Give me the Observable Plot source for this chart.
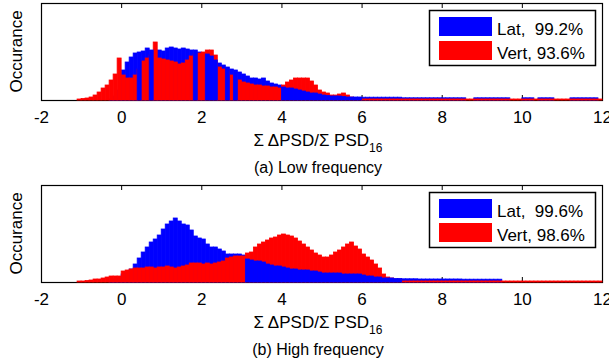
<!DOCTYPE html>
<html><head><meta charset="utf-8">
<script src="https://cdn.jsdelivr.net/npm/d3@7"></script>
<script src="https://cdn.jsdelivr.net/npm/@observablehq/plot@0.6"></script>
<style>
body{margin:0;background:#fff}
#fig{width:609px;height:364px;font-family:"Liberation Sans",Arial,sans-serif}
#fig svg{display:block;overflow:visible}
</style>
</head><body><div id="fig"></div>
<script>
// x ticks and bins (bin starts at -1.1, width 0.1)
const xTicks = [-2, 0, 2, 4, 6, 8, 10, 12];
const binStart = -1.1, binWidth = 0.1;
const yLabel = "Occurance";
const xLabelMain = "\u03A3 \u0394PSD/\u03A3 PSD";
const xLabelSub = "16";
const seriesNames = ["Lat", "Vert"];

// (a) Low frequency
const lowLat = [
  0,0,0,0,0,0,0,0,1,4,
  10,30,38,43,47,48,49,52,50,49,
  50,49,52,53,52,51,52,51,50,50,
  48,47,46,44,40,37,35,33,31,30,
  28,26,24,22,22,21,22,19,17,16,
  15,13,12,12,11,10,9,8,7,7,
  6,5,4.5,4,4,4,3.5,3,3,3,
  3,2.8,2.8,2.8,2.8,2.8,2.8,2.8,2.8,2.8,
  2.8,2.2,2.2,2.2,2.2,2.2,2.2,2.2,2.2,2.2,
  2.2,2.2,2.2,2.2,2.2,2.2,2.2,0,0,2.2,
  2.2,2.2,2.2,2.2,2.2,2.2,2.2,2.2,0,0,
  0,2.2,2.2,2.2,0,2.2,2.2,2.2,2.2,0,
  0,0,0,2.2,2.2,2.2,2.2,2.2,2.2,2.2,0
];
const lowVert = [
  1,1.5,2,3,5,8,12,15,20,26,
  42,25,22,22,25,31,39,42,45,58,
  42,41,40,39,38,36,37,40,44,46,
  47,48,50,50,45,33,31,29,25,22,
  20,18,17,16,15,15,14,14,13,13,
  12,15,18,20,22,22,22,22,19,15,
  10,8,7,5,5,6,7,5,3,2,
  1.5,1,1,1,1,1,1,1,1,1,
  1,1,1,1,1,1,1,1,1,1,
  1,1,1,1,1,1,1,1,1,1,
  1,1,1,1,1,1,1,1,1,1,
  1,1,1,1,1,1,1,1,1,1,
  1,1,1,1,1,1,1,1,1,1,1
];
// bins where the Lat bars lie in front of the Vert bars
const lowBlueFront = [[0.4,0.5],[0.7,0.8],[1.8,1.9],[2.1,2.4],[2.6,2.7],[2.8,2.9],[4.0,6.0]];
const lowPct = ["99.2%", "93.6%"];

// (b) High frequency
const highLat = [
  0,0,0,0,0,0,0,0,1,3,
  4,8,10,13,18,24,30,35,40,43,
  47,53,58,61,64,61,58,57,52,46,
  44,43,38,35,35,33,31,28,28,28,
  28,27,23,22,21,21,20,18,17,16,
  16,15,14,13,13,12,12,12,11,11,
  10,9,9,9,9,9,8,8,8,8,
  8,7,6,6,5,5,4,4,4,3.5,
  3.5,3.2,3.2,3.2,3.2,3,3,3,3,3,
  3,3,3,3,3,3,2.8,2.8,2.8,2.8,
  2.8,2.8,2.8,2.8,2.8,2.8,0,0,0,0,
  0,0,0,0,0,0,0,0,0,0,
  0,0,0,0,0,0,0,0,0,0,0
];
const highVert = [
  1,1,1.5,2,3,3,4,5,6,6,
  6,11,12,13,14,14,14,15,15,14,
  15,15,16,15,14,15,16,17,19,19,
  19,18,19,18,19,20,21,24,25,26,
  26,26,29,30,35,38,40,42,44,45,
  47,48,47,46,44,41,38,35,32,29,
  27,25,25,27,30,32,35,38,40,36,
  33,28,25,22,18,14,8,5,4,3,
  3,1,1,1,1,1,1,1,1,1,
  1,1,1,1,1,1,1,1,1,1,
  1,1,1,1,1,1,1,1,1,1,
  1,1,1,1,1,1,1,1,1,1,
  1,1,1,1,1,1,1,1,1,1,1
];
const highBlueFront = [[3.1,7.0]];
const highPct = ["99.6%", "98.6%"];

const BLUE = "#0000ff", RED = "#ff0000";
const FONT = '"Liberation Sans", Arial, sans-serif';

const panels = [
  {lat: lowLat, vert: lowVert, front: lowBlueFront, pct: lowPct, caption: "(a) Low frequency"},
  {lat: highLat, vert: highVert, front: highBlueFront, pct: highPct, caption: "(b) High frequency"}
];

const W = 609, H = 182, mT = 3, mB = 82, mL = 41, mR = 7;

for (const p of panels) {
  const data = p.lat.map((lat, i) => {
    const x1 = Math.round((binStart + i * binWidth) * 10) / 10;
    const x2 = Math.round((x1 + binWidth) * 10) / 10;
    const blueFront = p.front.some(([a, b]) => x1 >= a - 1e-6 && x1 < b - 1e-6);
    return {x1, x2, lat, vert: p.vert[i], blueFront};
  });
  const bar = (front, key, color) => Plot.rect(data, {
    filter: d => d.blueFront === front && d[key] > 0,
    x1: "x1", x2: "x2", y1: 0, y2: key,
    fill: color, stroke: color, strokeWidth: 0.8
  });
  const chart = Plot.plot({
    width: W, height: H, marginTop: mT, marginBottom: mB, marginLeft: mL, marginRight: mR,
    x: {domain: [-2, 12], axis: null},
    y: {domain: [0, 97], axis: null},
    style: {background: "transparent", fontFamily: FONT, color: "black", overflow: "visible"},
    marks: [
      Plot.frame({stroke: "black", strokeWidth: 1.2}),
      Plot.ruleX(xTicks, {x: d => d, insetTop: 92, stroke: "black"}),
      Plot.ruleX(xTicks, {x: d => d, insetBottom: 92, stroke: "black"}),
      bar(false, "lat", BLUE),
      bar(true, "vert", RED),
      bar(false, "vert", RED),
      bar(true, "lat", BLUE),
      Plot.text(xTicks, {x: d => d, frameAnchor: "bottom", text: d => String(d), dy: 17, lineAnchor: "middle", fontSize: 17, fill: "black"})
    ]
  });
  document.getElementById("fig").appendChild(chart);
  const svg = d3.select(chart);
  const cx = 318;
  // y label (rotated)
  svg.append("text").attr("transform", `translate(22,${(mT + H - mB) / 2}) rotate(-90)`)
    .attr("text-anchor", "middle").attr("font-family", FONT).attr("font-size", 17).attr("fill", "black")
    .text(yLabel);
  // x label with subscript
  const xl = svg.append("text").attr("x", cx).attr("y", 146).attr("text-anchor", "middle")
    .attr("font-family", FONT).attr("font-size", 17).attr("fill", "black");
  xl.append("tspan").text(xLabelMain);
  xl.append("tspan").attr("dy", 6).attr("font-size", 12).text(xLabelSub);
  // caption
  svg.append("text").attr("x", cx).attr("y", 173).attr("text-anchor", "middle")
    .attr("font-family", FONT).attr("font-size", 16).attr("fill", "black").text(p.caption);
  // legend
  const lg = svg.append("g");
  lg.append("rect").attr("x", 429.5).attr("y", 10.5).attr("width", 166).attr("height", 55)
    .attr("fill", "white").attr("stroke", "black").attr("stroke-width", 1.5);
  const entries = [[seriesNames[0] + ",  " + p.pct[0], BLUE, 17], [seriesNames[1] + ", " + p.pct[1], RED, 41]];
  for (const [label, color, y] of entries) {
    lg.append("rect").attr("x", 439).attr("y", y).attr("width", 53).attr("height", 19).attr("fill", color);
    lg.append("text").attr("x", 497).attr("y", y + 17.5).attr("text-anchor", "start")
      .attr("font-family", FONT).attr("font-size", 17)
      .attr("fill", "black").style("white-space", "pre").text(label);
  }
}
</script>
</body></html>
